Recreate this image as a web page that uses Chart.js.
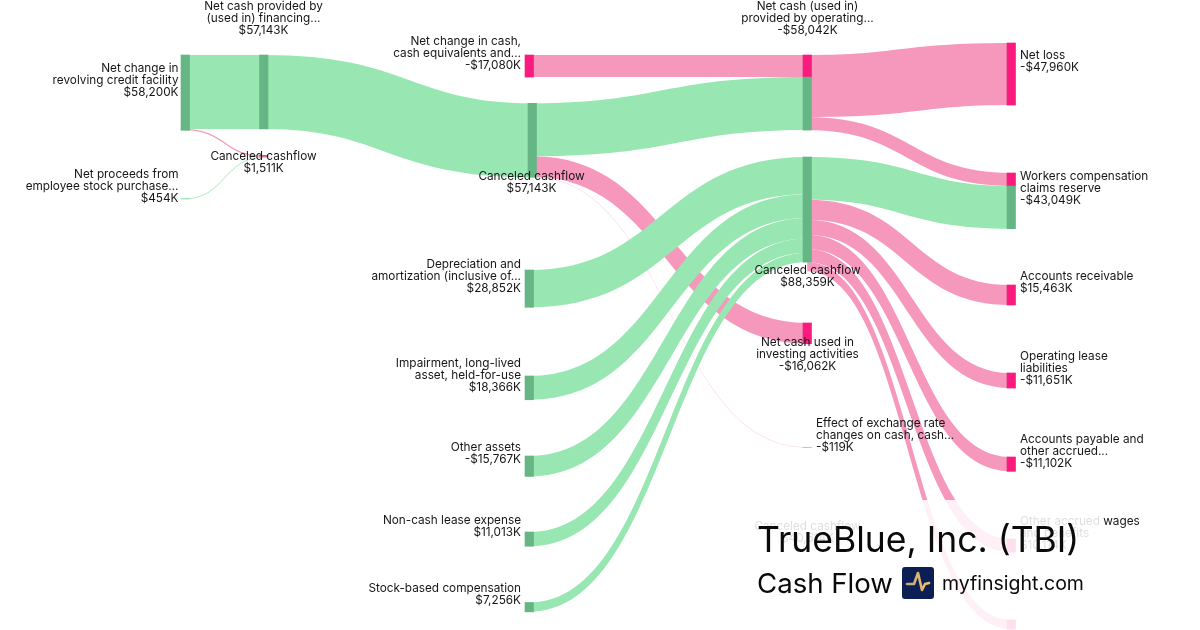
<!DOCTYPE html>
<html lang="en">
<head>
    <meta charset="UTF-8">
    <title>TrueBlue, Inc. (TBI) Cash Flow</title>
    <script src="https://cdn.jsdelivr.net/npm/chart.js"></script>
    <style>
        html, body { margin: 0; padding: 0; background: #fff; }
        #wrap { position: relative; width: 1200px; height: 630px; }
    </style>
</head>
<body>
<div id="wrap"><canvas id="cashFlow"></canvas></div>
<script>
// all amounts in $K
const nodeLabels = [
    ["Net change in", "revolving credit facility", "$58,200K"],
    ["Net proceeds from", "employee stock purchase...", "$454K"],
    ["Net cash provided by", "(used in) financing...", "$57,143K"],
    ["Canceled cashflow", "$1,511K"],
    ["Net change in cash,", "cash equivalents and...", "-$17,080K"],
    ["Canceled cashflow", "$57,143K"],
    ["Depreciation and", "amortization (inclusive of...", "$28,852K"],
    ["Impairment, long-lived", "asset, held-for-use", "$18,366K"],
    ["Other assets", "-$15,767K"],
    ["Non-cash lease expense", "$11,013K"],
    ["Stock-based compensation", "$7,256K"],
    ["Net cash (used in)", "provided by operating...", "-$58,042K"],
    ["Canceled cashflow", "$88,359K"],
    ["Net cash used in", "investing activities", "-$16,062K"],
    ["Effect of exchange rate", "changes on cash, cash...", "-$119K"],
    ["Net loss", "-$47,960K"],
    ["Workers compensation", "claims reserve", "-$43,049K"],
    ["Accounts receivable", "$15,463K"],
    ["Operating lease", "liabilities", "-$11,651K"],
    ["Accounts payable and", "other accrued...", "-$11,102K"],
    ["Other accrued wages", "and benefits", "$10,114K"],
    []
];

const flowFrom = [0, 0, 1, 2, 4, 5, 5, 5, 11, 11, 6, 7, 8, 9, 10, 12, 12, 12, 12, 12, 12];
const flowTo = [2, 3, 3, 5, 11, 11, 13, 14, 15, 16, 12, 12, 12, 12, 12, 16, 17, 18, 19, 20, 21];
const flowValues = [57143, 1057, 454, 57143, 17080, 40962, 16062, 119, 47960, 10082,
    28852, 18366, 15767, 11013, 7256, 32967, 15463, 11651, 11102, 10114, 7062];
const flowPositive = [1, 0, 1, 1, 0, 1, 0, 0, 0, 0, 1, 1, 1, 1, 1, 1, 0, 0, 0, 0, 0];

// where each node sits: x on the x axis, top on the $K axis
const nodeX = [181, 181, 259.5, 259.5, 525, 528, 525, 525, 525, 525, 525,
    803, 803, 803, 803, 1007, 1007, 1007, 1007, 1007, 1007, 1007];
const nodeTop = [42515, 153440, 42515, 120200, 42515, 79850, 208710, 290650, 352490, 411240, 465730,
    42515, 121360, 249680, 345760, 33240, 133730, 220300, 288330, 353260, 416650, 479260];
const NODE_W = 8.5;
const Y_MAX = 486990;

const PINK = '#f598bc', GREEN = '#98e7b2', PINK_NODE = '#f91c7e', GREEN_NODE = '#66b685';

// stack the flows inside each node, in the order they are listed
const outUsed = nodeTop.map(() => 0);
const inUsed = nodeTop.map(() => 0);
const flows = flowValues.map((v, i) => {
    const a = flowFrom[i], b = flowTo[i];
    const f = { a, b, v, positive: flowPositive[i],
        y0: nodeTop[a] + outUsed[a], y1: nodeTop[b] + inUsed[b] };
    outUsed[a] += v;
    inUsed[b] += v;
    return f;
});

// node segments: coloured by what comes in, start nodes take the colour of their first flow
const segments = [];
function segColor(positive, v) {
    if (v < 1000) return positive ? GREEN : PINK; // hairline flows stay light
    return positive ? GREEN_NODE : PINK_NODE;
}
flows.forEach(f => {
    segments.push({ x: nodeX[f.b] + NODE_W / 2, y: [f.y1, f.y1 + f.v], c: segColor(f.positive, f.v) });
    if (!flowTo.includes(f.a)) {
        const first = flowPositive[flowFrom.indexOf(f.a)];
        segments.push({ x: nodeX[f.a] + NODE_W / 2, y: [f.y0, f.y0 + f.v], c: segColor(first, f.v) });
    }
});

// label anchor per node: [align, x, y of first line]
const labelPos = [
    ['right', 178.5, 68], ['right', 178.5, 174], ['center', 263.5, 6], ['center', 263.5, 156],
    ['right', 521, 41], ['center', 531.5, 176], ['right', 521, 264], ['right', 521, 363],
    ['right', 521, 447], ['right', 521, 520], ['right', 521, 588],
    ['center', 807.5, 6], ['center', 807.5, 270], ['center', 807.5, 342], ['left', 816, 423],
    ['left', 1020, 55], ['left', 1020, 176], ['left', 1020, 276], ['left', 1020, 356],
    ['left', 1020, 439], ['left', 1020, 521], ['left', 1020, 640]
];

const ribbons = {
    id: 'ribbons',
    beforeDatasetsDraw(chart) {
        const { ctx, scales: { x, y } } = chart;
        // pink first, the green ones cross over it
        [0, 1].forEach(kind => {
            flows.filter(f => f.positive === kind).forEach(f => {
                const xa = x.getPixelForValue(nodeX[f.a] + NODE_W / 2);
                const xb = x.getPixelForValue(nodeX[f.b] + NODE_W / 2);
                const mid = (xa + xb) / 2;
                const ca = y.getPixelForValue(f.y0 + f.v / 2);
                const cb = y.getPixelForValue(f.y1 + f.v / 2);
                const h = Math.max(y.getPixelForValue(f.v) - y.getPixelForValue(0), 0.35);
                // bands swell a little on the slope, so shift the edges' control points apart
                const shift = 0.16 * h * Math.sign(ca - cb);
                const t0 = ca - h / 2, b0 = ca + h / 2, t1 = cb - h / 2, b1 = cb + h / 2;
                ctx.beginPath();
                ctx.moveTo(xa, t0);
                ctx.bezierCurveTo(mid - shift, t0, mid - shift, t1, xb, t1);
                ctx.lineTo(xb, b1);
                ctx.bezierCurveTo(mid + shift, b1, mid + shift, b0, xa, b0);
                ctx.closePath();
                ctx.fillStyle = kind ? GREEN : PINK;
                ctx.fill();
            });
        });
    }
};

function drawLines(ctx, lines, align, x, y) {
    ctx.textAlign = align;
    lines.forEach((s, i) => ctx.fillText(s, x, y + i * 12));
}

const overlay = {
    id: 'overlay',
    afterDatasetsDraw(chart) {
        const { ctx } = chart;
        ctx.save();
        ctx.textBaseline = 'middle';
        ctx.fillStyle = '#161616';
        ctx.font = '11.77px Inter';
        nodeLabels.forEach((lines, i) => drawLines(ctx, lines, labelPos[i][0], labelPos[i][1], labelPos[i][2]));
        // this one has no visible node, it only shows through the title box
        drawLines(ctx, ["Canceled cashflow", "$40,614K"], 'center', 807.5, 526);

        ctx.fillStyle = 'rgba(255,255,255,0.86)';
        ctx.fillRect(750, 500, 351, 130);

        ctx.textBaseline = 'alphabetic';
        ctx.textAlign = 'left';
        ctx.fillStyle = '#0a0a0a';
        ctx.font = '35.5px Inter';
        ctx.fillText('TrueBlue, Inc. (TBI)', 757, 552);
        ctx.font = '27.6px Inter';
        ctx.fillText('Cash Flow', 757, 593);
        ctx.font = '19.5px Inter';
        ctx.fillText('myfinsight.com', 942, 590);

        // logo
        ctx.fillStyle = '#0b1f55';
        ctx.beginPath();
        ctx.roundRect(902, 567, 32, 32, 3);
        ctx.fill();
        const g = ctx.createLinearGradient(906, 0, 930, 0);
        g.addColorStop(0, '#c8a484');
        g.addColorStop(1, '#f0c463');
        ctx.strokeStyle = g;
        ctx.lineWidth = 2.6;
        ctx.lineJoin = 'round';
        ctx.lineCap = 'round';
        ctx.beginPath();
        ctx.moveTo(907, 584);
        ctx.lineTo(914, 584);
        ctx.lineTo(918, 573);
        ctx.lineTo(922, 590);
        ctx.lineTo(925, 584);
        ctx.lineTo(929, 583);
        ctx.stroke();
        ctx.restore();
    }
};

new Chart(document.getElementById('cashFlow').getContext('2d'), {
    type: 'bar',
    data: {
        datasets: [{
            data: segments,
            backgroundColor: segments.map(s => s.c),
            barThickness: NODE_W
        }]
    },
    options: {
        responsive: true,
        maintainAspectRatio: false,
        animation: false,
        layout: { padding: 0 },
        plugins: { legend: { display: false }, tooltip: { enabled: false } },
        scales: {
            x: { type: 'linear', min: 0, max: 1200, display: false, offset: false },
            y: { min: 0, max: Y_MAX, reverse: true, display: false }
        }
    },
    plugins: [ribbons, overlay]
});
</script>
</body>
</html>
